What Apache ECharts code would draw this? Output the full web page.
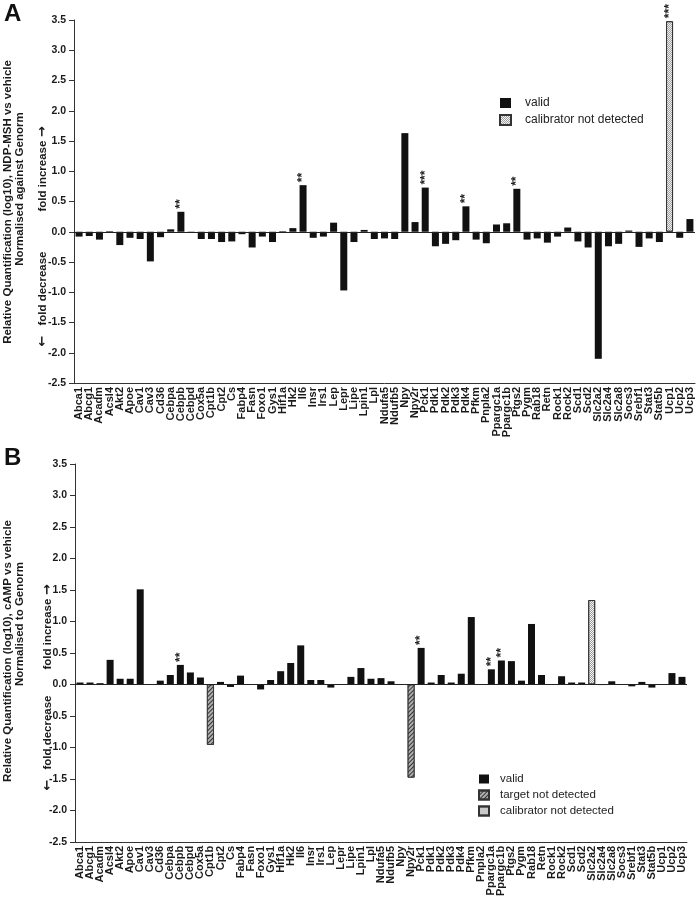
<!DOCTYPE html>
<html><head><meta charset="utf-8">
<script src="https://cdn.jsdelivr.net/npm/echarts@6/dist/echarts.min.js"></script>
<style>html,body{margin:0;padding:0;background:#fff}#c{width:696px;height:899px}</style>
</head><body><div id="c"></div>
<script>
const genes = ['Abca1','Abcg1','Acadm','Acsl4','Akt2','Apoe','Cav1','Cav3','Cd36','Cebpa','Cebpb','Cebpd','Cox5a','Cpt1b','Cpt2','Cs','Fabp4','Fasn','Foxo1','Gys1','Hif1a','Hk2','Il6','Insr','Irs1','Lep','Lepr','Lipe','Lpin1','Lpl','Ndufa5','Ndufb5','Npy','Npy2r','Pck1','Pdk1','Pdk2','Pdk3','Pdk4','Pfkm','Pnpla2','Ppargc1a','Ppargc1b','Ptgs2','Pygm','Rab18','Retn','Rock1','Rock2','Scd1','Scd2','Slc2a2','Slc2a4','Slc2a8','Socs3','Srebf1','Stat3','Stat5b','Ucp1','Ucp2','Ucp3'];

// Panel A: NDP-MSH vs vehicle (log10)
const valuesA = [-0.08,-0.07,-0.13,0.01,-0.22,-0.10,-0.12,-0.49,-0.09,0.04,
  0.33,-0.02,-0.12,-0.12,-0.17,-0.16,-0.04,-0.26,-0.08,-0.17,
  0.01,0.06,0.77,-0.10,-0.08,0.15,-0.97,-0.17,0.03,-0.12,
  -0.11,-0.12,1.63,0.16,0.73,-0.24,-0.20,-0.14,0.42,-0.13,
  -0.19,0.12,0.14,0.71,-0.13,-0.11,-0.18,-0.08,0.07,-0.16,
  -0.26,-2.10,-0.24,-0.20,0.02,-0.25,-0.11,-0.17,3.48,-0.10,0.21];
const calibratorA = ['Ucp1'];
const sigA = {Cebpb:'**', Il6:'**', Pck1:'***', Pdk4:'**', Ptgs2:'**', Ucp1:'***'};

// Panel B: cAMP vs vehicle (log10)
const valuesB = [0.03,0.03,0.02,0.39,0.09,0.09,1.51,0,0.06,0.15,
  0.31,0.19,0.11,-0.96,0.04,-0.04,0.14,0,-0.08,0.07,
  0.21,0.34,0.62,0.07,0.07,-0.05,0,0.12,0.26,0.09,
  0.10,0.05,0,-1.48,0.58,0.03,0.15,0.03,0.17,1.07,
  0,0.24,0.38,0.37,0.06,0.96,0.15,0,0.13,0.03,
  0.03,1.34,-0.01,0.05,0,-0.03,0.04,-0.05,0,0.18,0.12];
const targetB = ['Cpt1b','Npy2r'];
const calibratorB = ['Slc2a2'];
const sigB = {Cebpb:'**', Pck1:'**', Ppargc1a:'**', Ppargc1b:'**'};

const yTicks = {min:-2.5, max:3.5, step:0.5};

const FONT = 'Liberation Sans, Arial, sans-serif';
const pick = (vals, test) => vals.map((v,i) => test(genes[i]) ? v : '-');

const styleValid = {color:'#111'};
const styleTarget = {color:'#b0b0b0', borderColor:'#333', borderWidth:0.8,
  decal:{symbol:'rect', color:'#333', dashArrayX:[1,0], dashArrayY:[1,2], rotation:-Math.PI/4}};
const styleCal = {color:'#f2f2f2', borderColor:'#333', borderWidth:1,
  decal:{symbol:'rect', symbolSize:1, color:'#a0a0a0', dashArrayX:[[1,1],[0,1,1,0]], dashArrayY:[1,0]}};

function sigLabel(sig){
  return {show:true, position:'top', rotate:90, align:'left', verticalAlign:'middle', distance:3,
    fontSize:12, fontWeight:'bold', fontFamily:FONT, color:'#222',
    formatter: p => sig[genes[p.dataIndex]] || ''};
}

function xAxes(gi){
  return {type:'category', gridIndex:gi, data:genes, position:'bottom',
    axisLine:{onZero:false, lineStyle:{color:'#333', width:1}},
    axisTick:{alignWithLabel:true, length:4, lineStyle:{color:'#333'}},
    axisLabel:{interval:0, rotate:90, margin:4, fontSize:11, fontWeight:'bold', fontFamily:FONT, color:'#1a1a1a'},
    splitLine:{show:false}};
}
function yAxes(gi){
  return {type:'value', gridIndex:gi, min:yTicks.min, max:yTicks.max, interval:yTicks.step,
    axisLine:{show:true, lineStyle:{color:'#333', width:1}},
    axisTick:{show:true, length:5, lineStyle:{color:'#333'}},
    axisLabel:{margin:8, fontSize:10.5, fontWeight:'bold', fontFamily:FONT, color:'#1a1a1a', formatter:v => v.toFixed(1)},
    splitLine:{show:false}};
}
const zeroLine = {silent:true, symbol:'none', label:{show:false}, lineStyle:{color:'#222', width:1, type:'solid'}, data:[{yAxis:0}]};

const bw = 7;
const series = [
  {name:'valid', type:'bar', xAxisIndex:0, yAxisIndex:0, barWidth:bw, barGap:'-100%',
   data:pick(valuesA, g => !calibratorA.includes(g)), itemStyle:styleValid, label:sigLabel(sigA), markLine:zeroLine},
  {name:'calibrator not detected', type:'bar', xAxisIndex:0, yAxisIndex:0, barWidth:bw, barGap:'-100%',
   data:pick(valuesA, g => calibratorA.includes(g)), itemStyle:styleCal, label:sigLabel(sigA)},
  {name:'valid', type:'bar', xAxisIndex:1, yAxisIndex:1, barWidth:bw, barGap:'-100%',
   data:pick(valuesB, g => !targetB.includes(g) && !calibratorB.includes(g)), itemStyle:styleValid, label:sigLabel(sigB), markLine:zeroLine},
  {name:'target not detected', type:'bar', xAxisIndex:1, yAxisIndex:1, barWidth:bw, barGap:'-100%',
   data:pick(valuesB, g => targetB.includes(g)), itemStyle:styleTarget, label:sigLabel(sigB)},
  {name:'calibrator not detected', type:'bar', xAxisIndex:1, yAxisIndex:1, barWidth:bw, barGap:'-100%',
   data:pick(valuesB, g => calibratorB.includes(g)), itemStyle:styleCal, label:sigLabel(sigB)}
];

const legendText = {fontSize:12, fontFamily:FONT, color:'#222', padding:[0,0,0,9]};
const vtext = (x, y, text, size) => ({type:'text', x:x, y:y, rotation:Math.PI/2,
  style:{text:text, font:'bold '+size+'px '+FONT, fill:'#1a1a1a', textAlign:'center', textVerticalAlign:'middle'}});
const vrich = (x, y, text) => ({type:'text', x:x, y:y, rotation:Math.PI/2,
  style:{text:text, fill:'#1a1a1a', textAlign:'center', textVerticalAlign:'middle',
    rich:{t:{font:'bold 11.5px '+FONT, fill:'#1a1a1a'}, a:{font:'bold 13px DejaVu Sans', fill:'#1a1a1a'}}}});

const chart = echarts.init(document.getElementById('c'), null, {renderer:'canvas'});
chart.setOption({
  animation:false,
  backgroundColor:'#fff',
  grid:[{left:74, top:20, width:621, height:363},{left:75, top:464, width:612, height:382}],
  xAxis:[xAxes(0), xAxes(1)],
  yAxis:[yAxes(0), yAxes(1)],
  legend:[
    {orient:'vertical', left:499, top:97, padding:0, itemWidth:11, itemHeight:10, itemGap:5, icon:'rect',
     data:['valid','calibrator not detected'], textStyle:legendText, selectedMode:false},
    {orient:'vertical', left:478, top:773, padding:0, itemWidth:10, itemHeight:9, itemGap:4, icon:'rect',
     data:['valid','target not detected','calibrator not detected'], textStyle:Object.assign({}, legendText, {fontSize:11.5, padding:[0,0,0,6]}), selectedMode:false}
  ],
  graphic:[
    {type:'text', left:4, top:2, style:{text:'A', font:'bold 24px '+FONT, fill:'#111'}},
    {type:'text', left:4, top:446, style:{text:'B', font:'bold 24px '+FONT, fill:'#111'}},
    vtext(8, 202, 'Relative Quantification (log10), NDP-MSH vs vehicle', 11.5),
    vtext(20, 189, 'Normalised against Genorm', 11.5),
    vrich(43, 169, '{t|fold increase} {a|\u2192}'),
    vrich(43, 299, '{a|\u2190}   {t|fold decrease}'),
    vtext(8, 651, 'Relative Quantification (log10), cAMP vs vehicle', 11.5),
    vtext(20, 624, 'Normalised to Genorm', 11.5),
    vrich(48, 627, '{t|fold increase} {a|\u2192}'),
    vrich(48, 743, '{a|\u2190}   {t|fold decrease}')
  ],
  series:series
});
</script></body></html>
